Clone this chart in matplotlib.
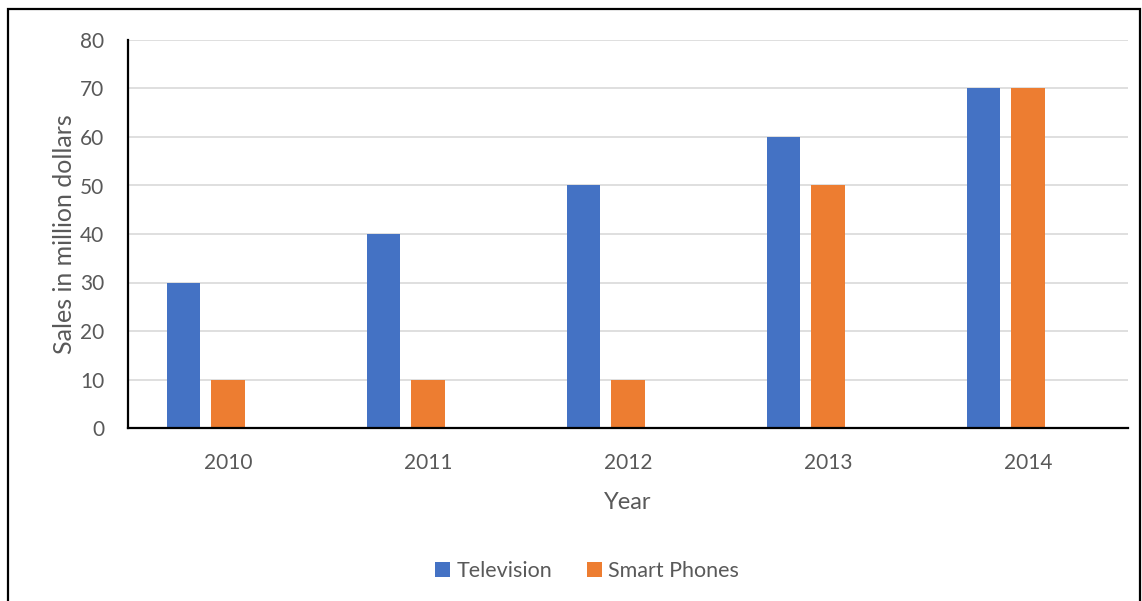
import numpy as np
import matplotlib.pyplot as plt
from matplotlib.patches import Rectangle

years = ["2010", "2011", "2012", "2013", "2014"]
television = [30, 40, 50, 60, 70]
smart_phones = [10, 10, 10, 50, 70]

plt.rcParams['font.family'] = ['Lato', 'DejaVu Sans']
grey = "#595959"

fig = plt.figure(figsize=(11.42, 6.01), dpi=100)
ax = fig.add_axes([128/1142, 1 - 428/601, 1000/1142, 388/601])

x = np.arange(len(years))
w = 0.167
ax.bar(x - 0.2225, television, w, color="#4472c4", label="Television", zorder=3)
ax.bar(x + 0.0, smart_phones, w, color="#ed7d31", label="Smart Phones", zorder=3)

ax.set_xlim(-0.5, 4.5)
ax.set_ylim(0, 80)
ax.set_yticks(range(0, 81, 10))
ax.set_xticks(x)
ax.set_xticklabels(years)
ax.tick_params(axis='both', length=0, labelsize=15, labelcolor=grey)
ax.tick_params(axis='y', pad=17)
ax.tick_params(axis='x', pad=18)
ax.grid(axis='y', color="#d9d9d9", linewidth=1.2, zorder=0)

for s in ["top", "right"]:
    ax.spines[s].set_visible(False)
for s in ["left", "bottom"]:
    ax.spines[s].set_linewidth(1.6)
    ax.spines[s].set_color("black")
    ax.spines[s].set_zorder(4)

ax.set_ylabel("Sales in million dollars", fontsize=18, color=grey, labelpad=3)
ax.set_xlabel("Year", fontsize=17, color=grey, labelpad=14)

fig.legend(loc="center", bbox_to_anchor=(587/1142, 1 - 571/601), ncol=2,
           frameon=False, fontsize=15.5, labelcolor=grey, handlelength=0.7,
           handleheight=0.7, columnspacing=1.6, handletextpad=0.3)

fig.patches.append(Rectangle((8/1142, -0.05), 1132/1142, 1.05 - 9.5/601,
                             transform=fig.transFigure, fill=False,
                             edgecolor="black", linewidth=1.6))

plt.savefig("out.png", dpi=100)
